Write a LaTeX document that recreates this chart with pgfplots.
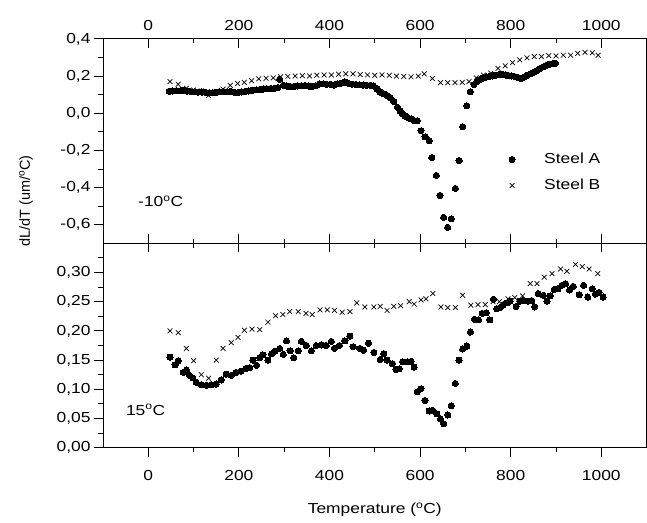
\documentclass[border=0pt]{standalone}
\usepackage{pgfplots}
\pgfplotsset{compat=1.18}
\usepackage{fontspec}
\setmainfont{Liberation Sans}[FakeStretch=1.2]
\newfontfamily\plainfont{Liberation Sans}

\pgfplotstableread{
T v
46 0.118
54 0.120
62 0.122
70 0.121
78 0.124
86 0.119
94 0.116
102 0.115
110 0.113
118 0.114
126 0.112
134 0.110
142 0.111
150 0.113
158 0.115
166 0.117
174 0.116
182 0.118
190 0.112
198 0.111
206 0.114
214 0.118
222 0.120
230 0.124
238 0.126
246 0.128
254 0.130
262 0.132
270 0.133
278 0.134
286 0.138
290 0.183
298 0.150
306 0.146
314 0.143
322 0.145
330 0.147
338 0.148
346 0.150
354 0.146
362 0.144
370 0.148
378 0.157
386 0.158
394 0.156
402 0.155
410 0.152
418 0.158
426 0.162
434 0.168
442 0.160
450 0.156
458 0.155
466 0.153
474 0.152
482 0.150
490 0.150
497 0.148
505 0.130
512 0.114
520 0.105
527 0.096
535 0.082
542 0.063
550 0.032
556 0.012
561 -0.004
567 -0.015
572 -0.022
580 -0.030
587 -0.039
594 -0.040
602 -0.094
611 -0.127
620 -0.148
626 -0.239
636 -0.335
644 -0.442
652 -0.560
661 -0.614
669 -0.568
678 -0.405
686 -0.255
694 -0.073
703 0.040
711 0.116
719 0.154
725 0.170
732 0.182
739 0.190
746 0.195
753 0.198
760 0.200
767 0.205
774 0.208
781 0.210
788 0.206
795 0.203
802 0.200
809 0.197
816 0.193
823 0.187
830 0.195
837 0.205
844 0.212
851 0.220
858 0.230
865 0.240
872 0.250
879 0.258
886 0.264
893 0.267
899 0.268
}\topA

\pgfplotstableread{
T v
48 0.170
66 0.156
84 0.134
100 0.125
117 0.120
133 0.095
150 0.118
165 0.130
181 0.150
197 0.160
212 0.166
228 0.175
244 0.185
260 0.188
276 0.190
292 0.196
308 0.198
324 0.200
340 0.202
356 0.200
372 0.204
388 0.206
404 0.206
420 0.210
436 0.212
452 0.212
468 0.208
484 0.206
500 0.204
516 0.206
532 0.204
548 0.200
564 0.198
580 0.196
596 0.200
609 0.212
627 0.187
645 0.165
661 0.165
677 0.165
693 0.166
708 0.170
724 0.190
740 0.205
756 0.215
772 0.241
788 0.255
804 0.272
820 0.287
836 0.298
852 0.305
868 0.305
884 0.310
900 0.308
916 0.312
932 0.312
948 0.322
964 0.328
980 0.325
993 0.312
}\topB

\pgfplotstableread{
T v
48 0.155
59 0.142
66 0.149
77 0.129
84 0.133
91 0.124
98 0.120
106 0.112
117 0.108
128 0.107
139 0.108
150 0.109
161 0.116
172 0.126
183 0.124
194 0.129
205 0.131
216 0.136
224 0.137
231 0.150
239 0.141
246 0.154
253 0.159
264 0.150
272 0.161
279 0.165
290 0.170
298 0.160
305 0.183
313 0.166
321 0.154
331 0.166
338 0.182
349 0.175
360 0.166
371 0.175
382 0.176
393 0.175
404 0.182
411 0.170
422 0.175
434 0.183
445 0.191
452 0.173
467 0.170
475 0.167
486 0.179
498 0.163
512 0.151
520 0.161
527 0.150
539 0.144
547 0.134
554 0.135
562 0.147
573 0.147
580 0.148
587 0.138
594 0.096
602 0.101
611 0.081
620 0.063
628 0.064
637 0.058
645 0.049
652 0.041
661 0.056
669 0.072
678 0.110
686 0.150
694 0.169
703 0.174
711 0.198
720 0.220
729 0.219
737 0.230
746 0.231
754 0.219
762 0.254
769 0.238
777 0.240
784 0.245
792 0.248
799 0.251
812 0.242
820 0.251
827 0.252
838 0.251
846 0.252
853 0.241
861 0.264
872 0.261
880 0.251
887 0.260
896 0.271
904 0.272
913 0.278
921 0.281
930 0.270
938 0.276
951 0.262
961 0.278
970 0.258
980 0.272
987 0.263
995 0.266
1004 0.258
}\botA

\pgfplotstableread{
T v
48 0.200
66 0.197
84 0.170
100 0.149
117 0.125
133 0.119
150 0.150
165 0.170
183 0.180
198 0.189
212 0.201
229 0.203
246 0.202
264 0.215
281 0.226
297 0.228
312 0.233
331 0.233
348 0.230
362 0.228
379 0.236
395 0.236
411 0.235
428 0.232
445 0.233
460 0.248
478 0.241
498 0.241
512 0.242
527 0.235
542 0.242
557 0.243
576 0.250
587 0.246
602 0.253
613 0.255
628 0.264
646 0.241
661 0.240
678 0.240
694 0.261
712 0.244
728 0.245
744 0.245
761 0.250
775 0.250
794 0.255
809 0.257
826 0.260
843 0.281
858 0.281
874 0.292
891 0.298
910 0.306
924 0.302
943 0.314
958 0.310
973 0.306
992 0.298
}\botB

\begin{document}
\begin{tikzpicture}[font=\fontsize{14.5}{17}\selectfont]
\pgfplotsset{
  every axis/.append style={
    scale only axis, width=543.6pt, height=204.4pt,
    xmin=-100, xmax=1100,
    xtick={0,200,400,600,800,1000},
    minor xtick={100,300,500,700,900},
    /pgf/number format/assume math mode=true,
    /pgf/number format/1000 sep={},
    axis line style={line width=0.9pt},
    major tick length=9pt, minor tick length=4.5pt,
    every tick/.style={black, line width=0.9pt},
    ytick pos=left,
    ytick align=outside,
  },
  sA/.style={only marks, mark=*, mark size=3.1pt, mark options={fill=black, draw=black, line width=0pt}},
  sB/.style={only marks, mark=x, mark size=3.4pt, mark options={draw=black, line width=0.7pt}},
}
% bottom panel
\begin{axis}[
  name=bot, at={(0pt,0pt)}, anchor=south west,
  ymin=0, ymax=0.35,
  ytick={0,0.05,0.10,0.15,0.20,0.25,0.30},
  minor ytick={0.025,0.075,0.125,0.175,0.225,0.275,0.325},
  yticklabel style={/pgf/number format/.cd, fixed, fixed zerofill, precision=2, use comma},
  xtick pos=lower, xtick align=outside,
  xticklabel style={yshift=-10pt},
  xlabel={Temperature (\textsuperscript{o}C)},
  xlabel style={at={(axis description cs:0.5,-0.305)}, anchor=center},
  ylabel={\plainfont dL/dT (um/\textsuperscript{o}C)},
  ylabel style={at={(axis description cs:-0.1417,1.207)}, anchor=center},
]
\addplot[sA] table[x=T, y=v] {\botA};
\addplot[sB] table[x=T, y=v] {\botB};
\node[anchor=west] at (axis cs:-57,0.065) {15\textsuperscript{o}C};
\end{axis}
% divider ticks pointing down into bottom panel
\begin{axis}[
  at={(0pt,0pt)}, anchor=south west,
  ymin=0, ymax=1, hide y axis,
  axis x line*=top, xtick align=inside,
  xticklabels={}, xtick pos=upper,
]
\end{axis}
% top panel
\begin{axis}[
  name=top, at={(0pt,204.4pt)}, anchor=south west,
  ymin=-0.7, ymax=0.4,
  ytick={-0.6,-0.4,-0.2,0,0.2,0.4},
  minor ytick={-0.5,-0.3,-0.1,0.1,0.3},
  yticklabel style={/pgf/number format/.cd, fixed, fixed zerofill, precision=1, use comma},
  xtick pos=both, xtick align=inside, xticklabel pos=upper,
  xticklabel style={yshift=5pt},
  legend style={at={(0.741,0.46)}, anchor=north west, draw=none, fill=none,
    row sep=10pt, font=\fontsize{14.5}{17}\selectfont,
    /tikz/every odd column/.append style={column sep=27pt}},
  legend cell align=left,
]
\addplot[sA] table[x=T, y=v] {\topA};
\addlegendentry{Steel A}
\addplot[sB] table[x=T, y=v] {\topB};
\addlegendentry{Steel B}
\node[anchor=west] at (axis cs:-30,-0.475) {-10\textsuperscript{o}C};
\end{axis}
\pgfresetboundingbox
\path[use as bounding box] (-103pt,-74.3pt) rectangle (544pt,447.7pt);
\end{tikzpicture}
\end{document}
